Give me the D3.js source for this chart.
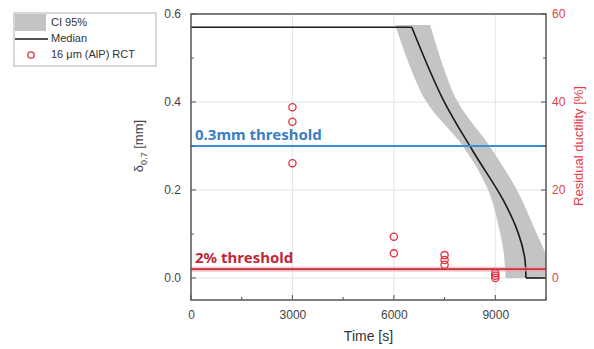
<!DOCTYPE html>
<html>
<head>
<meta charset="utf-8">
<script src="https://cdn.jsdelivr.net/npm/d3@7"></script>
<style>
  body { margin: 0; background: #fff; }
  svg { font-family: "Liberation Sans", Arial, sans-serif; }
</style>
</head>
<body>
<svg id="chart"></svg>
<script>
// x axis
const timeTicks = [0, 3000, 6000, 9000];
const leftTicks = [0.0, 0.2, 0.4, 0.6];
const rightTicks = [0, 20, 40, 60];

// median curve (time [s], deflection [mm])
const medianTime = [0, 6530, 7460, 8350, 9236, 9680, 9866, 9907, 10500];
const medianDefl = [0.57, 0.57, 0.405, 0.287, 0.177, 0.102, 0.048, 0, 0];

// CI 95% band: earliest / latest time for each deflection level
const ciDefl = [0.575, 0.405, 0.298, 0.2, 0.1, 0.057, 0];
const ciEarlyTime = [6040, 6927, 8060, 8790, 9150, 9250, 9310];
const ciLateTime = [7075, 7860, 8850, 9640, 10230, 10480, 10700];

// RCT points (residual ductility %)
const rctTime = [3000, 3000, 3000, 6000, 6000, 7500, 7500, 7500, 9000, 9000, 9000];
const rctDuct = [38.8, 35.5, 26.1, 9.4, 5.6, 5.2, 4.1, 3.0, 1.1, 0.5, 0];

const deflThreshold = 0.3;
const ductThreshold = 2;

const width = 594, height = 349;
const margin = {top: 14, right: 48, bottom: 49, left: 191};
const w = width - margin.left - margin.right;
const h = height - margin.top - margin.bottom;

const svg = d3.select('#chart').attr('width', width).attr('height', height);
const chart = svg.append('g').attr('transform', `translate(${margin.left},${margin.top})`);

const xScale = d3.scaleLinear().domain([0, 10500]).range([0, w]);
const yScale = d3.scaleLinear().domain([-0.05, 0.6]).range([h, 0]);
const y2Scale = d3.scaleLinear().domain([-5, 60]).range([h, 0]);

// grid
chart.append('g').selectAll('line').data(timeTicks.slice(1)).enter().append('line')
    .attr('x1', d => xScale(d)).attr('x2', d => xScale(d))
    .attr('y1', 0).attr('y2', h)
    .attr('stroke', '#e4e4e4');
chart.append('g').selectAll('line').data(leftTicks).enter().append('line')
    .attr('x1', 0).attr('x2', w)
    .attr('y1', d => yScale(d)).attr('y2', d => yScale(d))
    .attr('stroke', '#e4e4e4');

chart.append('clipPath').attr('id', 'clip')
  .append('rect').attr('width', w).attr('height', h);
const plot = chart.append('g').attr('clip-path', 'url(#clip)');

// CI band
const band = d3.area()
    .y(d => yScale(d))
    .x0((d, i) => xScale(ciEarlyTime[i]))
    .x1((d, i) => xScale(ciLateTime[i]))
    .curve(d3.curveCatmullRom);
plot.append('path')
    .attr('d', band(ciDefl))
    .attr('fill', '#c4c4c4');

// median: straight plateaus, smooth descent
const medianPts = medianTime.map((t, i) => [t, medianDefl[i]]);
const lin = d3.line().x(d => xScale(d[0])).y(d => yScale(d[1]));
const smooth = d3.line().x(d => xScale(d[0])).y(d => yScale(d[1])).curve(d3.curveCatmullRom);
[lin(medianPts.slice(0, 2)), smooth(medianPts.slice(1, 8)), lin(medianPts.slice(7))].forEach(p => {
    plot.append('path').attr('d', p)
        .attr('fill', 'none').attr('stroke', '#1a1a1a').attr('stroke-width', 1.6)
        .attr('stroke-linejoin', 'round');
});

// thresholds
plot.append('line')
    .attr('x1', 0).attr('x2', w)
    .attr('y1', yScale(deflThreshold)).attr('y2', yScale(deflThreshold))
    .attr('stroke', '#3c8fd6').attr('stroke-width', 2);
plot.append('line')
    .attr('x1', 0).attr('x2', w)
    .attr('y1', y2Scale(ductThreshold)).attr('y2', y2Scale(ductThreshold))
    .attr('stroke', '#f0a0a8').attr('stroke-width', 5).attr('opacity', 0.6);
plot.append('line')
    .attr('x1', 0).attr('x2', w)
    .attr('y1', y2Scale(ductThreshold)).attr('y2', y2Scale(ductThreshold))
    .attr('stroke', '#c8303e').attr('stroke-width', 1.8);

chart.append('text').attr('x', 4).attr('y', yScale(deflThreshold) - 6)
    .text('0.3mm threshold')
    .attr('fill', '#3a7fc4').style('font-size', '15px').style('font-weight', 'bold')
    .style('font-family', '"Noto Sans", sans-serif');
chart.append('text').attr('x', 4).attr('y', y2Scale(ductThreshold) - 6)
    .text('2% threshold')
    .attr('fill', '#c02838').style('font-size', '15px').style('font-weight', 'bold')
    .style('font-family', '"Noto Sans", sans-serif');

// RCT points
plot.append('g').selectAll('circle').data(rctTime).enter().append('circle')
    .attr('cx', d => xScale(d))
    .attr('cy', (d, i) => y2Scale(rctDuct[i]))
    .attr('r', 3.6)
    .attr('fill', 'none').attr('stroke', '#e0323c').attr('stroke-width', 1.3);

// axes (ticks drawn separately, inside)
const xAxis = d3.axisBottom(xScale).tickValues(timeTicks).tickSize(0).tickPadding(10).tickFormat(d3.format('d'));
const gx = chart.append('g').attr('transform', `translate(0,${h})`).call(xAxis);
const yAxis = d3.axisLeft(yScale).tickValues(leftTicks).tickSize(0).tickPadding(10).tickFormat(d3.format('.1f'));
const gy = chart.append('g').call(yAxis);
const y2Axis = d3.axisRight(y2Scale).tickValues(rightTicks).tickSize(0).tickPadding(6);
const gy2 = chart.append('g').attr('transform', `translate(${w},0)`).call(y2Axis);
[gx, gy, gy2].forEach(g => {
    g.select('.domain').remove();
    g.selectAll('text').style('font-size', '12px').style('font-family', '"Liberation Sans", Arial, sans-serif');
});
gx.selectAll('text').attr('fill', '#444');
gy.selectAll('text').attr('fill', '#444');
gy2.selectAll('text').attr('fill', '#e04048');

// inward tick marks, major + minor
const tickG = chart.append('g').attr('stroke', '#555').attr('stroke-width', 1);
d3.range(0, 10501, 1500).forEach((t, i) => {
    const len = i % 2 === 0 ? 5 : 3;
    tickG.append('line').attr('x1', xScale(t)).attr('x2', xScale(t)).attr('y1', h).attr('y2', h - len);
});
d3.range(0, 0.61, 0.1).forEach((v, i) => {
    const len = i % 2 === 0 ? 5 : 3;
    tickG.append('line').attr('x1', 0).attr('x2', len).attr('y1', yScale(v)).attr('y2', yScale(v));
});
d3.range(0, 61, 10).forEach((v, i) => {
    const len = i % 2 === 0 ? 5 : 3;
    tickG.append('line').attr('x1', w).attr('x2', w - len).attr('y1', y2Scale(v)).attr('y2', y2Scale(v));
});

// frame
chart.append('rect').attr('width', w).attr('height', h)
    .attr('fill', 'none').attr('stroke', '#555').attr('stroke-width', 1.5);

// axis titles
chart.append('text')
    .attr('x', w / 2).attr('y', h + 41)
    .attr('text-anchor', 'middle')
    .style('font-size', '14px').attr('fill', '#333')
    .text('Time [s]');

const yTitle = svg.append('text')
    .attr('transform', `translate(143,${margin.top + yScale(0.3)}) rotate(-90)`)
    .attr('text-anchor', 'middle')
    .style('font-size', '13px').attr('fill', '#444');
yTitle.append('tspan').text('δ');
yTitle.append('tspan').attr('dy', 4).style('font-size', '9px').text('0.7');
yTitle.append('tspan').attr('dy', -4).text(' [mm]');

svg.append('text')
    .attr('transform', `translate(583,${margin.top + yScale(0.3)}) rotate(-90)`)
    .attr('text-anchor', 'middle')
    .style('font-size', '13px').attr('fill', '#e04048')
    .text('Residual ductility [%]');

// legend
const legend = svg.append('g').attr('transform', 'translate(14,13)');
legend.append('rect').attr('width', 142).attr('height', 53)
    .attr('fill', '#fff').attr('stroke', '#b0b0b0');
legend.append('rect').attr('x', 1).attr('y', 1).attr('width', 31).attr('height', 17).attr('fill', '#c4c4c4');
legend.append('line').attr('x1', 1).attr('x2', 34).attr('y1', 26).attr('y2', 26)
    .attr('stroke', '#1a1a1a').attr('stroke-width', 1.6);
legend.append('circle').attr('cx', 17).attr('cy', 42).attr('r', 3.2)
    .attr('fill', 'none').attr('stroke', '#e0323c').attr('stroke-width', 1.3);
const legendLabels = ['CI 95%', 'Median', '16 μm (AlP) RCT'];
legend.selectAll('.lbl').data(legendLabels).enter().append('text')
    .attr('class', 'lbl')
    .attr('x', 37).attr('y', (d, i) => 10 + i * 16)
    .attr('dominant-baseline', 'middle')
    .style('font-size', '11px').attr('fill', '#333')
    .text(d => d);
</script>
</body>
</html>
